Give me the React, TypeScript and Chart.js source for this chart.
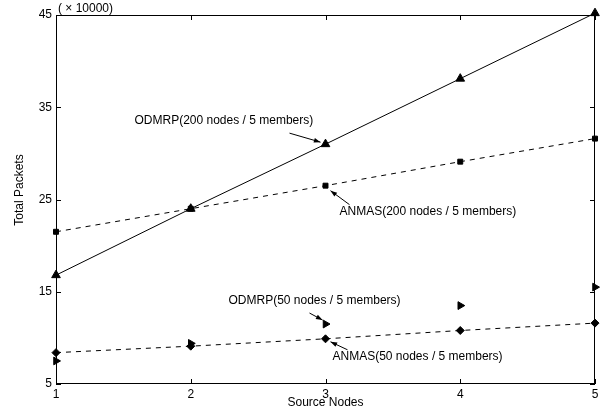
import React, { useEffect, useRef } from "react";
import { Chart, registerables } from "chart.js";

Chart.register(...registerables);

const sourceNodes = [1, 2, 3, 4, 5];
const odmrp200 = [16.8, 24.0, 31.0, 38.1, 45.2];
const anmas200 = [21.5, 24.0, 26.5, 29.1, 31.6];
const odmrp50 = [7.5, 9.4, 11.5, 13.5, 15.5];
const anmas50 = [8.4, 9.1, 9.9, 10.8, 11.6];
const yTicks = [5, 15, 25, 35, 45];

const FONT = "'Liberation Sans', Arial, sans-serif";

const pts = (ys: number[]) => sourceNodes.map((x, i) => ({ x, y: ys[i] }));

// annotations: label, target point, text offset, arrow start offset, arrow tip offset
const annotations = [
  { text: "ODMRP(200 nodes / 5 members)", x: 3, y: 31.0, tx: -191, ty: -23, ax: -36, ay: -11, bx: -5, by: -2 },
  { text: "ANMAS(200 nodes / 5 members)", x: 3, y: 26.5, tx: 14, ty: 26, ax: 24, ay: 19, bx: 5, by: 5 },
  { text: "ODMRP(50 nodes / 5 members)", x: 3, y: 11.5, tx: -97, ty: -23, ax: -16, ay: -11, bx: -3, by: -4 },
  { text: "ANMAS(50 nodes / 5 members)", x: 3, y: 9.9, tx: 7, ty: 18, ax: 22, ay: 11, bx: 5, by: 3 },
];

const decorPlugin = {
  id: "decor",
  afterDraw(chart: any) {
    const ctx = chart.ctx;
    const { left, right, top, bottom } = chart.chartArea;
    const xs = chart.scales.x;
    const ys = chart.scales.y;
    ctx.save();
    ctx.strokeStyle = "#000";
    ctx.lineWidth = 1;
    ctx.setLineDash([]);
    ctx.strokeRect(left + 0.5, top + 0.5, right - left - 1, bottom - top - 1);
    // inward ticks
    ctx.beginPath();
    sourceNodes.forEach((v) => {
      const px = Math.round(xs.getPixelForValue(v)) + 0.5;
      ctx.moveTo(px, bottom);
      ctx.lineTo(px, bottom - 5);
      ctx.moveTo(px, top);
      ctx.lineTo(px, top + 5);
    });
    yTicks.forEach((v) => {
      const py = Math.round(ys.getPixelForValue(v)) + 0.5;
      ctx.moveTo(left, py);
      ctx.lineTo(left + 5, py);
      ctx.moveTo(right, py);
      ctx.lineTo(right - 5, py);
    });
    ctx.stroke();

    ctx.fillStyle = "#000";
    ctx.font = `12px ${FONT}`;
    ctx.textBaseline = "middle";
    ctx.textAlign = "left";
    ctx.fillText("( \u00d7 10000)", left + 2, top - 6);

    // annotations
    annotations.forEach((a) => {
      const px = xs.getPixelForValue(a.x);
      const py = ys.getPixelForValue(a.y);
      ctx.textAlign = "left";
      ctx.fillText(a.text, px + a.tx, py + a.ty);
      const x0 = px + a.ax, y0 = py + a.ay, x1 = px + a.bx, y1 = py + a.by;
      ctx.beginPath();
      ctx.moveTo(x0, y0);
      ctx.lineTo(x1, y1);
      ctx.stroke();
      const ang = Math.atan2(y1 - y0, x1 - x0);
      const L = 7, W = 0.35;
      ctx.beginPath();
      ctx.moveTo(x1, y1);
      ctx.lineTo(x1 - L * Math.cos(ang - W), y1 - L * Math.sin(ang - W));
      ctx.lineTo(x1 - L * Math.cos(ang + W), y1 - L * Math.sin(ang + W));
      ctx.closePath();
      ctx.fill();
    });

    // axis titles
    ctx.textAlign = "center";
    ctx.fillText("Source Nodes", (left + right) / 2, 403);
    ctx.save();
    ctx.translate(20, 190);
    ctx.rotate(-Math.PI / 2);
    ctx.fillText("Total Packets", 0, 0);
    ctx.restore();
    ctx.restore();
  },
};

export default function App() {
  const ref = useRef<HTMLCanvasElement>(null);
  useEffect(() => {
    if (!ref.current) return;
    const common = {
      borderColor: "#000",
      backgroundColor: "#000",
      pointBackgroundColor: "#000",
      pointBorderColor: "#000",
      borderWidth: 1,
      pointBorderWidth: 1,
      clip: false,
    };
    const chart = new Chart(ref.current, {
      type: "line",
      data: {
        datasets: [
          { ...common, label: "ODMRP(200)", data: pts(odmrp200), pointStyle: "triangle", pointRadius: 5 },
          { ...common, label: "ANMAS(200)", data: pts(anmas200), pointStyle: "rect", pointRadius: 3.5, borderDash: [5, 5] },
          { ...common, label: "ODMRP(50)", data: pts(odmrp50), pointStyle: "triangle", pointRotation: 90, pointRadius: 4.5, showLine: false },
          { ...common, label: "ANMAS(50)", data: pts(anmas50), pointStyle: "rectRot", pointRadius: 4, borderDash: [5, 5] },
        ] as any,
      },
      options: {
        animation: false,
        responsive: false,
        maintainAspectRatio: false,
        layout: { padding: { top: 15, right: 7, left: 0, bottom: 0 } },
        plugins: { legend: { display: false }, tooltip: { enabled: false } },
        scales: {
          x: {
            type: "linear",
            min: 1,
            max: 5,
            grid: { display: false, drawTicks: false },
            border: { display: false },
            ticks: { stepSize: 1, padding: 3, color: "#000", font: { family: FONT, size: 12 } },
            afterFit: (s: any) => { s.height = 27; },
          },
          y: {
            min: 5,
            max: 45,
            grid: { display: false, drawTicks: false },
            border: { display: false },
            ticks: { stepSize: 10, padding: 4, color: "#000", font: { family: FONT, size: 12 } },
            afterFit: (s: any) => { s.width = 56; },
          },
        },
      } as any,
      plugins: [decorPlugin],
    });
    return () => chart.destroy();
  }, []);
  return (
    <div style={{ position: "fixed", left: 0, top: 0, width: 602, height: 411, background: "#fff" }}>
      <canvas ref={ref} width={602} height={411} style={{ width: 602, height: 411 }} />
    </div>
  );
}
